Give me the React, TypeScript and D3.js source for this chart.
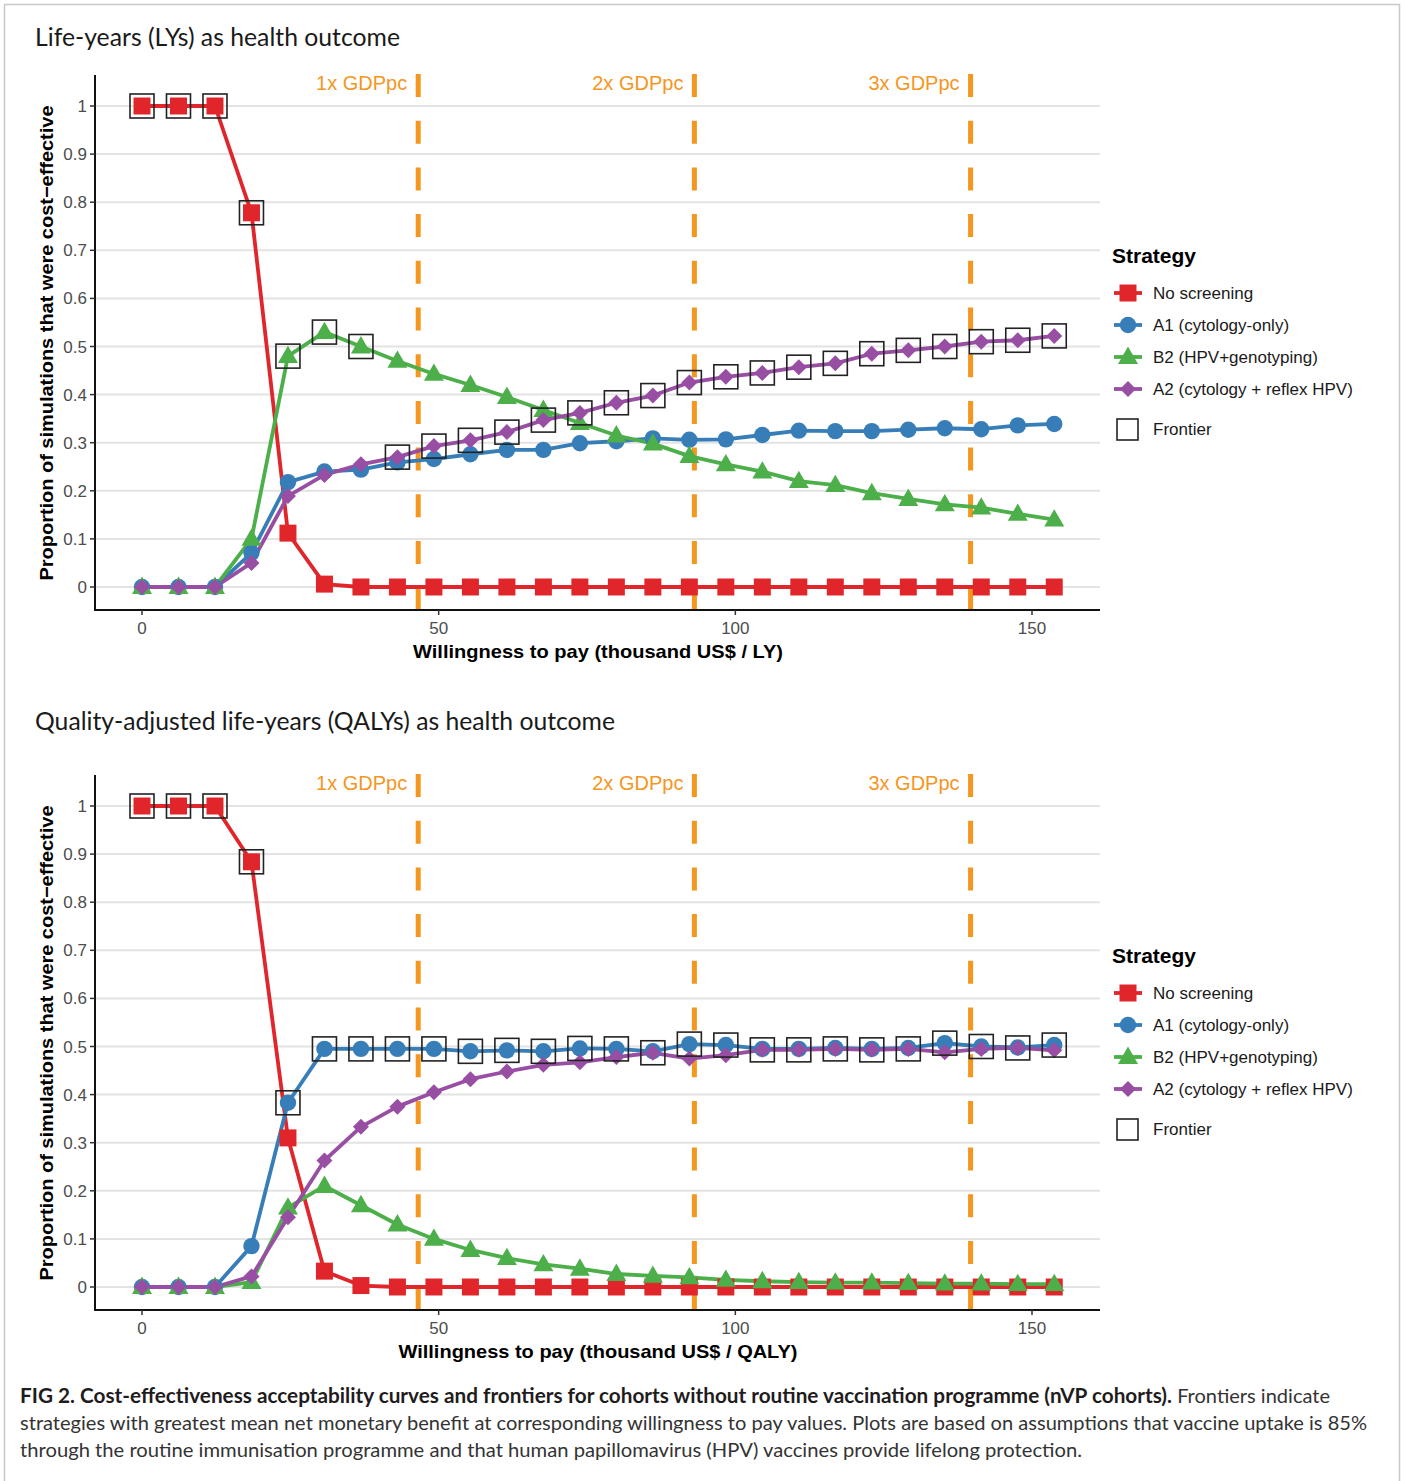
import React from 'react';
import * as d3 from 'd3';

// ---------- DATA ----------
const wtp = [0, 6.15, 12.3, 18.45, 24.6, 30.75, 36.9, 43.05, 49.2, 55.35, 61.5, 67.65, 73.8, 79.95, 86.1, 92.25, 98.4, 104.55, 110.7, 116.85, 123, 129.15, 135.3, 141.45, 147.6, 153.75];
const xTicks = [0, 50, 100, 150];
const yTicks = [0, 0.1, 0.2, 0.3, 0.4, 0.5, 0.6, 0.7, 0.8, 0.9, 1];
const yTickLabels = ['0', '0.1', '0.2', '0.3', '0.4', '0.5', '0.6', '0.7', '0.8', '0.9', '1'];
const gdpLines = [46.55, 93.1, 139.65];
const gdpLabels = ['1x GDPpc', '2x GDPpc', '3x GDPpc'];
const strategies = ['No screening', 'A1 (cytology-only)', 'B2 (HPV+genotyping)', 'A2 (cytology + reflex HPV)'];
const strategyColors = ['#E0262B', '#377EB8', '#4DAF4A', '#984EA3'];
const strategyShapes = ['square', 'circle', 'triangle', 'diamond'];

// Life-years panel
const lyNoScreening = [1, 1, 1, 0.778, 0.112, 0.006, 0, 0, 0, 0, 0, 0, 0, 0, 0, 0, 0, 0, 0, 0, 0, 0, 0, 0, 0, 0];
const lyA1 = [0, 0, 0, 0.071, 0.218, 0.24, 0.244, 0.259, 0.266, 0.276, 0.285, 0.285, 0.299, 0.303, 0.309, 0.306, 0.307, 0.316, 0.325, 0.324, 0.324, 0.327, 0.33, 0.328, 0.336, 0.339];
const lyB2 = [0, 0, 0, 0.1, 0.48, 0.53, 0.5, 0.47, 0.443, 0.42, 0.395, 0.368, 0.341, 0.315, 0.298, 0.272, 0.255, 0.24, 0.22, 0.212, 0.195, 0.183, 0.172, 0.165, 0.152, 0.14];
const lyA2 = [0, 0, 0, 0.05, 0.189, 0.233, 0.255, 0.27, 0.293, 0.305, 0.322, 0.347, 0.362, 0.383, 0.398, 0.425, 0.437, 0.445, 0.457, 0.465, 0.485, 0.492, 0.5, 0.51, 0.513, 0.522];
const lyFrontier = [0, 0, 0, 0, 2, 2, 2, 3, 3, 3, 3, 3, 3, 3, 3, 3, 3, 3, 3, 3, 3, 3, 3, 3, 3, 3];

// QALY panel
const qalyNoScreening = [1, 1, 1, 0.884, 0.31, 0.033, 0.003, 0, 0, 0, 0, 0, 0, 0, 0, 0, 0, 0, 0, 0, 0, 0, 0, 0, 0, 0];
const qalyA1 = [0, 0, 0, 0.085, 0.383, 0.495, 0.495, 0.495, 0.495, 0.49, 0.492, 0.49, 0.496, 0.495, 0.49, 0.505, 0.503, 0.495, 0.495, 0.497, 0.495, 0.497, 0.507, 0.5, 0.498, 0.503];
const qalyB2 = [0, 0, 0, 0.01, 0.165, 0.21, 0.17, 0.13, 0.1, 0.077, 0.06, 0.047, 0.038, 0.027, 0.023, 0.02, 0.015, 0.012, 0.01, 0.009, 0.009, 0.008, 0.007, 0.007, 0.006, 0.006];
const qalyA2 = [0, 0, 0, 0.022, 0.145, 0.263, 0.333, 0.375, 0.405, 0.432, 0.448, 0.462, 0.467, 0.478, 0.487, 0.475, 0.482, 0.493, 0.493, 0.495, 0.493, 0.495, 0.488, 0.495, 0.497, 0.492];
const qalyFrontier = [0, 0, 0, 0, 1, 1, 1, 1, 1, 1, 1, 1, 1, 1, 3, 1, 1, 3, 3, 3, 3, 3, 1, 1, 3, 1];

const captionBold = 'FIG 2.  Cost-effectiveness acceptability curves and frontiers for cohorts without routine vaccination programme (nVP cohorts).';
const captionLines = [
  ' Frontiers indicate',
  'strategies with greatest mean net monetary benefit at corresponding willingness to pay values. Plots are based on assumptions that vaccine uptake is 85%',
  'through the routine immunisation programme and that human papillomavirus (HPV) vaccines provide lifelong protection.',
];

// ---------- STYLE ----------
const ORANGE = '#F5961E';
const NARROW = "'Liberation Sans Narrow', 'Arial Narrow', 'Liberation Sans', Arial, sans-serif";
const SANS = "'Liberation Sans', Arial, Helvetica, sans-serif";
const HUMAN = "Lato, 'Open Sans', sans-serif";

function shapePath(shape: string): string {
  if (shape === 'square') {
    const h = 8.5;
    return `M${-h},${-h}H${h}V${h}H${-h}Z`;
  }
  if (shape === 'circle') {
    const r = 8.2;
    return `M${r},0A${r},${r} 0 1,1 ${-r},0A${r},${r} 0 1,1 ${r},0Z`;
  }
  if (shape === 'triangle') {
    const s = 20;
    const h = (s * Math.sqrt(3)) / 2;
    return `M0,${-h * 0.6}L${s / 2},${h * 0.4}L${-s / 2},${h * 0.4}Z`;
  }
  const d = 8;
  return `M0,${-d}L${d},0L0,${d}L${-d},0Z`;
}

type PanelProps = {
  top: number;
  title: string;
  titleY: number;
  titleLen: number;
  xTitle: string;
  xTitleLen: number;
  series: number[][];
  frontier: number[];
};

function Panel({ top, title, titleY, titleLen, xTitle, xTitleLen, series, frontier }: PanelProps) {
  const x = d3.scaleLinear().domain([0, 150]).range([142, 1032]);
  const y = d3.scaleLinear().domain([0, 1]).range([top + 587, top + 106]);
  const axisBottom = top + 610;
  const axisTop = top + 75;
  const line = d3
    .line<number>()
    .x((_, i) => x(wtp[i]))
    .y((v) => y(v));

  return (
    <g>
      <text x={35} y={titleY} fontFamily={HUMAN} fontSize={25} fill="#1a1a1a" textLength={titleLen} lengthAdjust="spacingAndGlyphs">
        {title}
      </text>
      {/* gridlines */}
      {yTicks.map((t) => (
        <line key={'g' + t} x1={95} x2={1100} y1={y(t)} y2={y(t)} stroke="#E3E3E3" strokeWidth={2} />
      ))}
      {/* GDP lines */}
      {gdpLines.map((g, i) => (
        <g key={'gdp' + i}>
          <line x1={x(g)} x2={x(g)} y1={axisTop - 1} y2={axisBottom} stroke={ORANGE} strokeWidth={5} strokeDasharray="23 23.7" />
          <text x={x(g) - 11} y={top + 90} textAnchor="end" fontFamily={NARROW} fontSize={20} fill={ORANGE}>
            {gdpLabels[i]}
          </text>
        </g>
      ))}
      {/* axes */}
      <line x1={95} x2={95} y1={axisTop} y2={axisBottom + 1} stroke="#111" strokeWidth={2} />
      <line x1={94} x2={1100} y1={axisBottom} y2={axisBottom} stroke="#111" strokeWidth={2} />
      {yTicks.map((t, i) => (
        <g key={'yt' + t}>
          <line x1={90} x2={95} y1={y(t)} y2={y(t)} stroke="#333" strokeWidth={1.5} />
          <text x={87} y={y(t) + 6} textAnchor="end" fontFamily={NARROW} fontSize={17} fill="#4D4D4D">
            {yTickLabels[i]}
          </text>
        </g>
      ))}
      {xTicks.map((t) => (
        <g key={'xt' + t}>
          <line x1={x(t)} x2={x(t)} y1={axisBottom} y2={axisBottom + 5} stroke="#333" strokeWidth={1.5} />
          <text x={x(t)} y={axisBottom + 24} textAnchor="middle" fontFamily={NARROW} fontSize={17} fill="#4D4D4D">
            {t}
          </text>
        </g>
      ))}
      <text x={598} y={top + 658} textAnchor="middle" fontFamily={SANS} fontWeight="bold" fontSize={19} fill="#000" textLength={xTitleLen} lengthAdjust="spacingAndGlyphs">
        {xTitle}
      </text>
      <text
        transform={`translate(53,${top + 343}) rotate(-90)`}
        textAnchor="middle"
        fontFamily={SANS}
        fontWeight="bold"
        fontSize={19}
        fill="#000"
        textLength={475}
        lengthAdjust="spacingAndGlyphs"
      >
        Proportion of simulations that were cost−effective
      </text>
      {/* lines */}
      {series.map((s, k) => (
        <path key={'l' + k} d={line(s) || ''} fill="none" stroke={strategyColors[k]} strokeWidth={3.8} strokeLinejoin="round" />
      ))}
      {/* points */}
      {series.map((s, k) => (
        <g key={'p' + k}>
          {s.map((v, i) => (
            <path key={i} d={shapePath(strategyShapes[k])} transform={`translate(${x(wtp[i])},${y(v)})`} fill={strategyColors[k]} />
          ))}
        </g>
      ))}
      {/* frontier */}
      {frontier.map((k, i) => (
        <rect
          key={'f' + i}
          x={x(wtp[i]) - 12}
          y={y(series[k][i]) - 12}
          width={24}
          height={24}
          fill="none"
          stroke="#222"
          strokeWidth={1.6}
        />
      ))}
      {/* legend */}
      <text x={1112} y={top + 263} fontFamily={SANS} fontWeight="bold" fontSize={21} fill="#000">
        Strategy
      </text>
      {strategies.map((name, k) => {
        const cy = top + 293 + k * 32;
        return (
          <g key={'lg' + k}>
            <line x1={1114} x2={1142} y1={cy} y2={cy} stroke={strategyColors[k]} strokeWidth={3.8} />
            <path d={shapePath(strategyShapes[k])} transform={`translate(1128,${cy})`} fill={strategyColors[k]} />
            <text x={1153} y={cy + 6} fontFamily={NARROW} fontSize={17} fill="#1a1a1a">
              {name}
            </text>
          </g>
        );
      })}
      <rect x={1117} y={top + 419} width={21} height={21} fill="none" stroke="#222" strokeWidth={1.6} />
      <text x={1153} y={top + 435} fontFamily={NARROW} fontSize={17} fill="#1a1a1a">
        Frontier
      </text>
    </g>
  );
}

export default function App() {
  return (
    <svg width={1405} height={1481} style={{ position: 'absolute', left: 0, top: 0, background: '#fff' }}>
      <rect x={0} y={0} width={1405} height={1481} fill="#fff" />
      <rect x={4.5} y={4.5} width={1395} height={1485} fill="none" stroke="#C8C8C8" strokeWidth={1.5} />
      <Panel
        top={0}
        title="Life-years (LYs) as health outcome"
        titleY={46}
        titleLen={365}
        xTitle="Willingness to pay (thousand US$ / LY)"
        xTitleLen={370}
        series={[lyNoScreening, lyA1, lyB2, lyA2]}
        frontier={lyFrontier}
      />
      <Panel
        top={700}
        title="Quality-adjusted life-years (QALYs) as health outcome"
        titleY={730}
        titleLen={580}
        xTitle="Willingness to pay (thousand US$ / QALY)"
        xTitleLen={399}
        series={[qalyNoScreening, qalyA1, qalyB2, qalyA2]}
        frontier={qalyFrontier}
      />
      <text y={1403} fontFamily={HUMAN} fontSize={20} fill="#1f1c1d">
        <tspan x={20} fontWeight="bold" textLength={1152} lengthAdjust="spacingAndGlyphs">
          {captionBold}
        </tspan>
        <tspan fontWeight={400} fill="#333" textLength={158} lengthAdjust="spacingAndGlyphs">
          {captionLines[0]}
        </tspan>
      </text>
      <text x={20} y={1430} fontFamily={HUMAN} fontSize={20} fontWeight={400} fill="#333" textLength={1347} lengthAdjust="spacingAndGlyphs">
        {captionLines[1]}
      </text>
      <text x={20} y={1457} fontFamily={HUMAN} fontSize={20} fontWeight={400} fill="#333" textLength={1062} lengthAdjust="spacingAndGlyphs">
        {captionLines[2]}
      </text>
    </svg>
  );
}
